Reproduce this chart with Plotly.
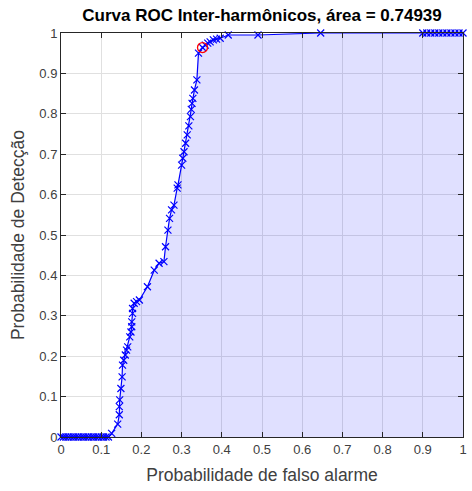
import plotly.graph_objects as go

fpr = [0, 0.006, 0.012, 0.018, 0.025, 0.031, 0.037, 0.043, 0.05, 0.056,
       0.062, 0.068, 0.075, 0.081, 0.087, 0.093, 0.1, 0.106, 0.112, 0.118,
       0.126, 0.141, 0.145, 0.145, 0.146, 0.149, 0.152, 0.153, 0.156, 0.16,
       0.163, 0.166, 0.171, 0.174, 0.176, 0.176, 0.178, 0.178, 0.182, 0.188,
       0.195, 0.215, 0.232, 0.244, 0.256, 0.26, 0.266, 0.27, 0.275, 0.281,
       0.289, 0.291, 0.3, 0.303, 0.306, 0.31, 0.314, 0.318, 0.322, 0.324,
       0.326, 0.328, 0.332, 0.338, 0.342, 0.352, 0.359, 0.365, 0.371, 0.379,
       0.387, 0.396, 0.416, 0.49, 0.646, 0.9, 0.91, 0.92, 0.93, 0.94,
       0.95, 0.96, 0.97, 0.98, 0.99, 1.0]
tpr = [0, 0, 0, 0, 0, 0, 0, 0, 0, 0,
       0, 0, 0, 0, 0, 0, 0, 0, 0, 0,
       0.009, 0.032, 0.055, 0.075, 0.092, 0.12, 0.149, 0.178, 0.19, 0.203,
       0.215, 0.223, 0.248, 0.26, 0.273, 0.285, 0.306, 0.318, 0.331, 0.335,
       0.339, 0.372, 0.413, 0.43, 0.434, 0.471, 0.512, 0.541, 0.562, 0.574,
       0.616, 0.624, 0.673, 0.69, 0.706, 0.727, 0.748, 0.77, 0.793, 0.811,
       0.826, 0.838, 0.859, 0.884, 0.95, 0.964, 0.97, 0.975, 0.978, 0.983,
       0.985, 0.987, 0.995, 0.995, 1.0, 1.0, 1.0, 1.0, 1.0, 1.0,
       1.0, 1.0, 1.0, 1.0, 1.0, 1.0]
opt_point = [0.352, 0.964]
area = 0.74939
ticks = [0, 0.1, 0.2, 0.3, 0.4, 0.5, 0.6, 0.7, 0.8, 0.9, 1]
tick_text = ["0", "0.1", "0.2", "0.3", "0.4", "0.5", "0.6", "0.7", "0.8", "0.9", "1"]

FONT = "Liberation Sans, Arial, sans-serif"

fig = go.Figure()
fig.add_trace(go.Scatter(
    x=fpr, y=tpr, mode="lines+markers", fill="tozeroy",
    fillcolor="rgba(0,0,255,0.12)",
    line=dict(color="rgb(0,0,255)", width=1.2),
    marker=dict(symbol="x-thin", size=7, line=dict(color="rgb(0,0,255)", width=1.2)),
    cliponaxis=False, showlegend=False))
fig.add_trace(go.Scatter(
    x=[opt_point[0]], y=[opt_point[1]], mode="markers",
    marker=dict(symbol="circle-open", size=10, color="red", line=dict(width=1.3)),
    cliponaxis=False, showlegend=False))

axis_common = dict(
    range=[0, 1], tickvals=ticks, ticktext=tick_text,
    showgrid=True, gridcolor="#e0e0e0", gridwidth=1,
    showline=True, linecolor="#262626", linewidth=1, mirror="allticks",
    ticks="inside", ticklen=5, tickcolor="#262626",
    tickfont=dict(family=FONT, size=13, color="#404040"),
    zeroline=False,
)
fig.update_xaxes(**axis_common,
                 title=dict(text="Probabilidade de falso alarme", standoff=13,
                            font=dict(family=FONT, size=17.5, color="#404040")))
fig.update_yaxes(**axis_common,
                 title=dict(text="Probabilidade de Detecção", standoff=10,
                            font=dict(family=FONT, size=17.5, color="#404040")))

fig.update_layout(
    width=472, height=491,
    margin=dict(l=61, r=5, t=33, b=54),
    plot_bgcolor="white", paper_bgcolor="white",
    title=dict(text=f"<b>Curva ROC Inter-harmônicos, área = {area}</b>",
               x=262 / 472, xanchor="center", y=1 - 15 / 491, yanchor="middle",
               font=dict(family=FONT, size=17, color="black")),
)
fig.write_html("out.html")
